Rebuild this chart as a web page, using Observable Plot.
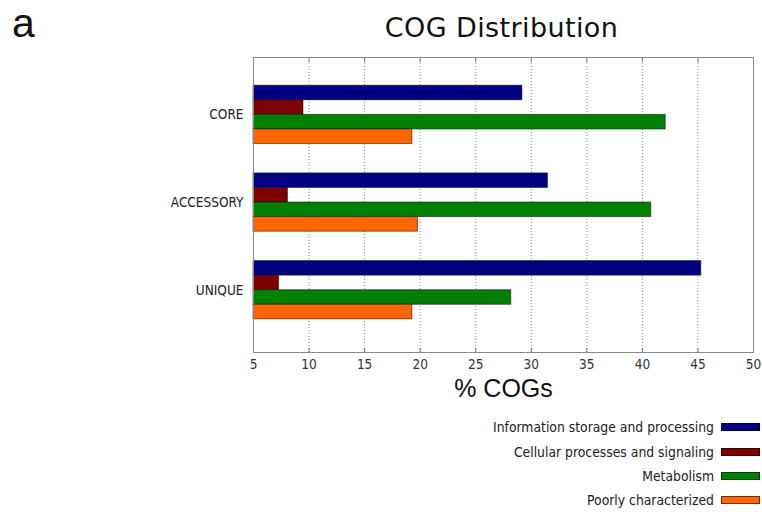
<!DOCTYPE html>
<html>
<head>
<meta charset="utf-8">
<script src="https://cdn.jsdelivr.net/npm/d3@7"></script>
<script src="https://cdn.jsdelivr.net/npm/@observablehq/plot@0.6"></script>
<style>
  html, body { margin: 0; padding: 0; background: #fff; }
  #wrap { position: relative; width: 762px; height: 512px; overflow: hidden; background: #fff; }
  #header { position: relative; width: 762px; height: 45px; }
  #panel { position: absolute; left: 12px; top: 0; font-family: "Liberation Sans", Arial, sans-serif; font-size: 41px; line-height: normal; color: #111; }
  #title { position: absolute; left: 253px; width: 497px; top: 14px; text-align: center; font: 27px/27px "DejaVu Sans", Verdana, sans-serif; letter-spacing: 0.4px; color: #111; }
  #chart svg { display: block; }
  #legend { position: absolute; right: 2px; top: 415px; font-family: "DejaVu Sans Condensed", "DejaVu Sans", sans-serif; font-size: 13.8px; color: #222; }
  .row { display: flex; justify-content: flex-end; align-items: center; height: 24.4px; }
  .sw { width: 39px; height: 8px; margin-left: 7px; border: 1px solid rgba(0,0,0,0.55); box-sizing: border-box; }
</style>
</head>
<body>
<div id="wrap">
  <div id="header"><div id="panel">a</div><div id="title">COG Distribution</div></div>
  <div id="chart"></div>
  <div id="legend"></div>
</div>
<script>
const groups = ["CORE", "ACCESSORY", "UNIQUE"];
const seriesNames = ["Information storage and processing", "Cellular processes and signaling", "Metabolism", "Poorly characterized"];
const seriesColors = ["#000080", "#800000", "#008000", "#ff6600"];
const infoValues = [29.2, 31.5, 45.3];
const cellularValues = [9.5, 8.1, 7.3];
const metabolismValues = [42.1, 40.8, 28.2];
const poorlyValues = [19.3, 19.8, 19.3];
const xDomain = [5, 50];
const xTicks = [5, 10, 15, 20, 25, 30, 35, 40, 45, 50];
const xLabel = "% COGs";

const allValues = [infoValues, cellularValues, metabolismValues, poorlyValues];

const W = 762, H = 355, mL = 253, mR = 9, mT = 12, mB = 48;
const pInner = 0.335, pOuter = 0.35;
const innerH = H - mT - mB;
const step = innerH / (groups.length - pInner + 2 * pOuter);
const bandH = step * (1 - pInner);
const barH = bandH / seriesNames.length;

const barMarks = allValues.map((vals, k) =>
  Plot.barX(groups.map((g, i) => ({group: g, value: vals[i]})), {
    x1: () => xDomain[0],
    x2: "value",
    y: "group",
    fill: seriesColors[k],
    stroke: "#000",
    strokeOpacity: 0.5,
    strokeWidth: 1,
    insetTop: k * barH,
    insetBottom: (seriesNames.length - 1 - k) * barH
  })
);

const plot = Plot.plot({
  width: W,
  height: H,
  marginLeft: mL,
  marginRight: mR,
  marginTop: mT,
  marginBottom: mB,
  style: {background: "transparent"},
  x: {domain: xDomain, ticks: xTicks, label: null},
  y: {domain: groups, paddingInner: pInner, paddingOuter: pOuter, align: 0.46, round: false, label: null},
  marks: [
    Plot.gridX(xTicks.slice(1, -1), {stroke: "#888", strokeOpacity: 1, strokeDasharray: "1,2"}),
    ...barMarks,
    Plot.axisX(xTicks, {tickSize: -4, text: null, label: null, stroke: "#777"}),
    Plot.axisX(xTicks, {anchor: "top", tickSize: -4, text: null, label: null, stroke: "#777"}),
    Plot.axisX(xTicks, {tickSize: 0, tickPadding: 7, label: null, fontSize: 13.5, fontFamily: "DejaVu Sans Condensed, DejaVu Sans, sans-serif", fill: "#333"}),
    Plot.axisY({tickSize: 0, tickPadding: 10, label: null, fontSize: 13.5, fontFamily: "DejaVu Sans Condensed, DejaVu Sans, sans-serif", fill: "#222"}),
    Plot.frame({stroke: "#888", strokeWidth: 1}),
    Plot.text([xLabel], {frameAnchor: "bottom", dy: 44, fontSize: 25, fontFamily: "Liberation Sans, Arial, sans-serif", fill: "#111"})
  ]
});
document.getElementById("chart").appendChild(plot);

const legend = document.getElementById("legend");
seriesNames.forEach((name, k) => {
  const row = document.createElement("div");
  row.className = "row";
  const t = document.createElement("span");
  t.textContent = name;
  const sw = document.createElement("div");
  sw.className = "sw";
  sw.style.background = seriesColors[k];
  row.appendChild(t);
  row.appendChild(sw);
  legend.appendChild(row);
});
</script>
</body>
</html>
